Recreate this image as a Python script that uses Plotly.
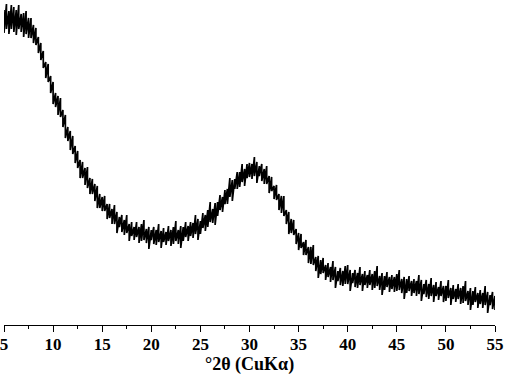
import numpy as np
import plotly.graph_objects as go

# XRD scan, 5-55 deg 2theta, step 0.25 deg
two_theta = np.arange(5.0, 55.0001, 0.25)

# upper / lower edges of the noisy trace (arbitrary intensity units)
intensity_upper = [
    315, 321, 314, 320, 318, 315, 320, 311, 312, 314, 307, 307, 300, 297, 288, 282,
    274, 263, 261, 249, 243, 232, 229, 227, 215, 210, 198, 194, 189, 179, 174, 165,
    163, 157, 158, 147, 146, 141, 139, 131,
    128, 129, 121, 121, 116, 120, 113, 108, 110, 105, 110, 101, 103, 98, 103, 98, 101, 105, 96, 98,
    95, 98, 95, 101, 94, 97, 93, 99, 95, 98, 104, 95, 99, 98, 103, 99, 103, 102, 110, 106,
    104, 112, 110, 115, 123, 116, 122, 123, 130, 128, 135, 136, 147, 145, 146, 153, 153, 161, 156, 161,
    162, 161, 168, 163, 159, 161, 156, 159, 149, 148, 139, 140, 131, 129, 129, 115, 113, 106, 105, 96,
    92, 91, 83, 85, 78, 78, 80, 68, 69, 65, 67, 60, 62, 58, 64, 58, 54, 57, 54, 59,
    60, 55, 52, 55, 52, 58, 51, 54, 50, 55, 51, 54, 59, 49, 52, 49, 53, 48, 50, 48,
    51, 55, 46, 48, 46, 49, 44, 46, 44, 50, 45, 41, 45, 41, 47, 40, 43, 38, 44, 39,
    39, 45, 37, 40, 36, 41, 37, 39, 44, 34, 37, 34, 38, 32, 35, 32, 39, 33, 30, 33,
    29,
]
intensity_lower = [
    292, 296, 291, 296, 293, 290, 296, 293, 288, 291, 287, 287, 282, 280, 272, 265,
    257, 247, 243, 232, 221, 218, 210, 208, 198, 187, 184, 175, 171, 162, 157, 147,
    147, 140, 137, 131, 131, 124, 117, 117,
    114, 114, 106, 107, 101, 101, 92, 98, 93, 90, 92, 84, 89, 85, 88, 82, 84, 85, 82, 76,
    85, 81, 80, 83, 77, 83, 80, 84, 79, 81, 84, 81, 77, 84, 88, 84, 89, 87, 91, 85,
    91, 97, 94, 98, 103, 102, 100, 109, 115, 113, 121, 121, 128, 124, 136, 136, 138, 143, 139, 147,
    148, 146, 149, 142, 149, 144, 141, 141, 132, 134, 126, 125, 115, 112, 109, 101, 91, 92, 90, 81,
    75, 77, 70, 70, 62, 61, 60, 54, 47, 51, 52, 45, 48, 43, 45, 37, 44, 40, 39, 41,
    41, 34, 42, 38, 37, 40, 34, 40, 37, 40, 35, 37, 39, 35, 30, 35, 38, 33, 36, 33,
    34, 35, 32, 26, 32, 34, 29, 32, 29, 31, 24, 31, 28, 26, 29, 23, 29, 25, 29, 23,
    24, 27, 20, 26, 23, 26, 21, 22, 24, 20, 15, 20, 23, 17, 21, 17, 20, 12, 20, 16,
    15,
]

tick_vals = [5, 10, 15, 20, 25, 30, 35, 40, 45, 50, 55]

tick_font = dict(family="Liberation Serif", size=17, color="black", weight="bold")
title_font = dict(family="Liberation Serif", size=18, color="black", weight="bold")

# noise drawn as a zigzag between the two edges at each scan step
zz_x = np.repeat(two_theta, 2)
zz_y = np.column_stack([intensity_upper, intensity_lower]).ravel()

fig = go.Figure()
fig.add_trace(go.Scatter(x=zz_x, y=zz_y, mode="lines",
                         line=dict(color="black", width=1.7), showlegend=False))

fig.update_layout(
    width=505, height=377,
    margin=dict(l=4, r=10, t=0, b=52),
    paper_bgcolor="white", plot_bgcolor="white",
    font=tick_font,
    xaxis=dict(
        range=[5, 55], tickvals=tick_vals, ticks="outside", ticklen=6,
        tickwidth=1, tickcolor="black", showline=True, linecolor="black",
        linewidth=1, showgrid=False, zeroline=False, tickfont=tick_font,
        automargin=False, ticklabeloverflow="allow", ticklabelstandoff=-2,
        minor=dict(dtick=2.5, tick0=5, ticks="outside", ticklen=3,
                   tickcolor="black", showgrid=False),
    ),
    yaxis=dict(range=[0, 325], visible=False),
    annotations=[dict(text="°2θ (CuKα)", xref="paper", yref="paper", x=0.5, y=0,
                      yshift=-39, xanchor="center", yanchor="middle",
                      showarrow=False, font=title_font)],
)

fig.write_html("out.html", config={"displayModeBar": False},
               post_script="document.body.style.margin='0';")
